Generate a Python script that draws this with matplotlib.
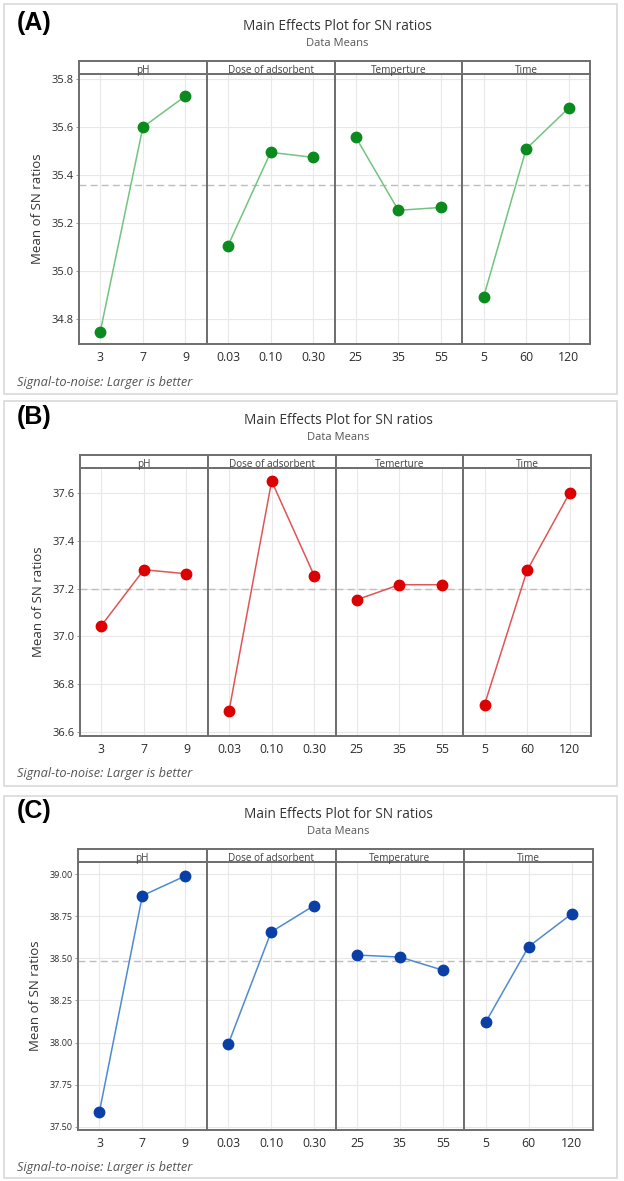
import matplotlib
matplotlib.use("Agg")
import matplotlib.pyplot as plt
from matplotlib.patches import Rectangle
import numpy as np

plt.rcParams['font.family'] = ['Open Sans', 'DejaVu Sans']

# factor levels (tick labels)
ph_levels = ["3", "7", "9"]
dose_levels = ["0.03", "0.10", "0.30"]
temp_levels = ["25", "35", "55"]
time_levels = ["5", "60", "120"]

# (A) mean of SN ratios
a_ph = [34.747, 35.600, 35.730]
a_dose = [35.106, 35.495, 35.474]
a_temp = [35.558, 35.253, 35.265]
a_time = [34.890, 35.509, 35.680]

# (B)
b_ph = [37.045, 37.280, 37.263]
b_dose = [36.688, 37.652, 37.255]
b_temp = [37.154, 37.217, 37.217]
b_time = [36.714, 37.277, 37.603]

# (C)
c_ph = [37.589, 38.873, 38.990]
c_dose = [37.990, 38.657, 38.814]
c_temp = [38.520, 38.508, 38.430]
c_time = [38.121, 38.570, 38.764]

a_names = ["pH", "Dose of adsorbent", "Temperture", "Time"]
b_names = ["pH", "Dose of adsorbent", "Temerture", "Time"]
c_names = ["pH", "Dose of adsorbent", "Temperature", "Time"]

a_yticks = [34.8, 35.0, 35.2, 35.4, 35.6, 35.8]
b_yticks = [36.6, 36.8, 37.0, 37.2, 37.4, 37.6]
c_yticks = [37.50, 37.75, 38.00, 38.25, 38.50, 38.75, 39.00]

W, H = 624, 1181
fig = plt.figure(figsize=(W / 100, H / 100), dpi=100)
fig.patch.set_facecolor("white")

DARK = "#6e6e6e"


def fx(px):
    return px / W


def fy(py):
    return 1 - py / H


def draw_panel(tag, names, series, yticks, fmt, ylim, geo, mcol, lcol, ytick_size):
    left, right = geo["left"], geo["right"]
    strip_top, plot_top, bottom = geo["strip_top"], geo["plot_top"], geo["bottom"]
    bx0, by0, bx1, by1 = geo["box"]

    # outer frame of each sub-figure
    fig.patches.append(Rectangle((fx(bx0), fy(by1)), fx(bx1) - fx(bx0), fy(by0) - fy(by1),
                                 transform=fig.transFigure, fill=False,
                                 edgecolor="#d9d9d9", linewidth=1.2))

    cx = (left + right) / 2 + 3
    fig.text(fx(cx), fy(strip_top - 34), "Main Effects Plot for SN ratios",
             ha="center", va="center", fontsize=9.8, color="#333333")
    fig.text(fx(cx), fy(strip_top - 17), "Data Means",
             ha="center", va="center", fontsize=8, color="#555555")
    fig.text(fx(17), fy(strip_top - 38), tag, ha="left", va="center",
             fontsize=18, fontweight="bold", family=["Liberation Sans", "DejaVu Sans"])
    fig.text(fx(17), fy(geo["foot"]), "Signal-to-noise: Larger is better",
             ha="left", va="center", fontsize=9.2, style="italic", color="#555555")

    allvals = np.concatenate([np.array(s) for s, _ in series])
    grand_mean = allvals.mean()

    pw = (right - left) / 4
    for i, (vals, levels) in enumerate(series):
        x0 = left + i * pw
        ax = fig.add_axes([fx(x0), fy(bottom), pw / W, (bottom - plot_top) / H])
        sx = fig.add_axes([fx(x0), fy(plot_top), pw / W, (plot_top - strip_top) / H])

        xs = np.arange(len(levels))
        ax.plot(xs, vals, color=lcol, linewidth=1.1, zorder=3)
        ax.plot(xs, vals, "o", color=mcol, markersize=7.5, zorder=4, clip_on=False)
        ax.axhline(grand_mean, color="#bdbdbd", linestyle=(0, (5, 3)), linewidth=1.0, zorder=2)

        ax.set_xlim(-0.5, len(levels) - 0.5)
        ax.set_ylim(*ylim)
        ax.set_xticks(xs)
        ax.set_xticklabels(levels, fontsize=8.8, color="#2b2b2b")
        ax.set_yticks(yticks)
        ax.grid(True, color="#e8e8e8", linewidth=0.8, zorder=0)
        ax.set_axisbelow(True)
        ax.tick_params(axis="x", length=0, pad=5)
        if i == 0:
            ax.set_yticklabels([fmt % v for v in yticks], fontsize=ytick_size, color="#2b2b2b")
            ax.tick_params(axis="y", length=2.5, width=0.7, color="#999999", pad=1.5)
            ax.set_ylabel("Mean of SN ratios", fontsize=9.5, color="#333333", labelpad=5)
        else:
            ax.tick_params(axis="y", length=0, labelleft=False)
        for side in ["left", "right", "bottom", "top"]:
            ax.spines[side].set_color(DARK)
            ax.spines[side].set_linewidth(1.4)

        sx.set_xticks([])
        sx.set_yticks([])
        for side in sx.spines:
            sx.spines[side].set_color(DARK)
            sx.spines[side].set_linewidth(1.4)
        sx.text(0.5, 0.3, names[i], transform=sx.transAxes, ha="center", va="center",
                fontsize=7.2, color="#444444")


geoA = dict(box=(4, 4, 617, 394), left=79, right=590, strip_top=61, plot_top=74,
            bottom=344, foot=383)
geoB = dict(box=(4, 401, 617, 786), left=80, right=591, strip_top=455, plot_top=468,
            bottom=736, foot=773)
geoC = dict(box=(4, 796, 617, 1178), left=78, right=593, strip_top=849, plot_top=862,
            bottom=1130, foot=1167)

draw_panel("(A)", a_names,
           [(a_ph, ph_levels), (a_dose, dose_levels), (a_temp, temp_levels), (a_time, time_levels)],
           a_yticks, "%.1f", (34.695, 35.822), geoA, "#0b8a1e", "#72c47f", 8)
draw_panel("(B)", b_names,
           [(b_ph, ph_levels), (b_dose, dose_levels), (b_temp, temp_levels), (b_time, time_levels)],
           b_yticks, "%.1f", (36.582, 37.707), geoB, "#dd0000", "#e05555", 8)
draw_panel("(C)", c_names,
           [(c_ph, ph_levels), (c_dose, dose_levels), (c_temp, temp_levels), (c_time, time_levels)],
           c_yticks, "%.2f", (37.48, 39.073), geoC, "#0a3fa8", "#4f8ad0", 6.5)

fig.savefig("out.png", dpi=100, facecolor="white")
